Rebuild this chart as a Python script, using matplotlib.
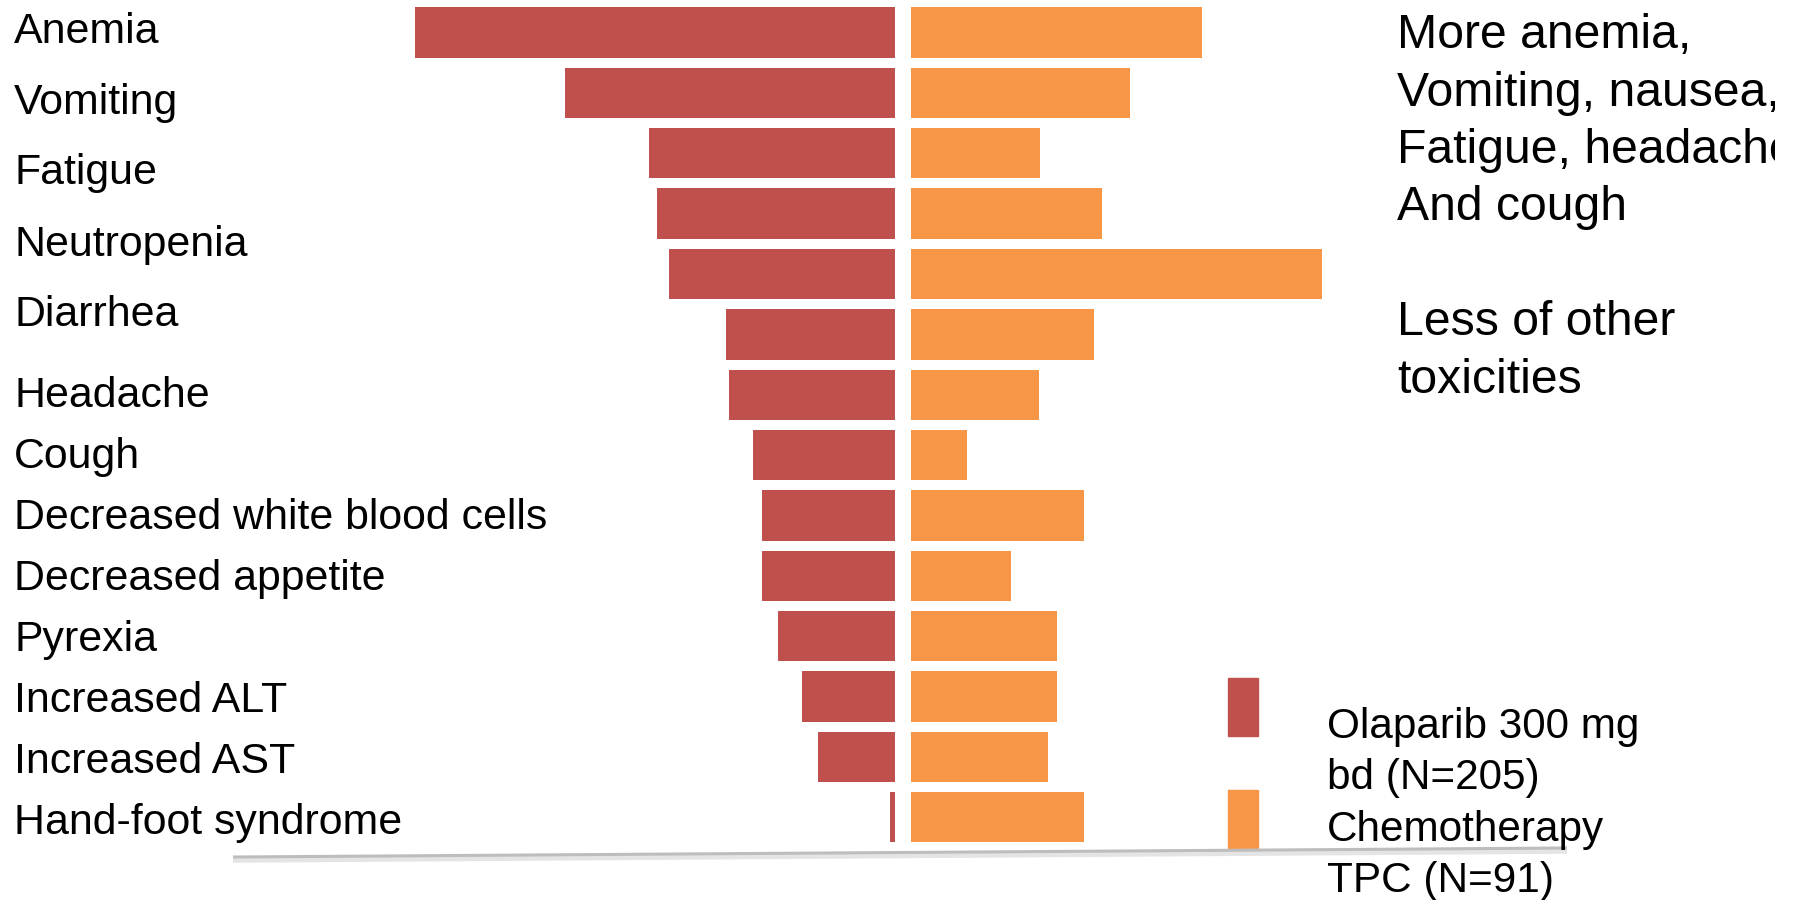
import matplotlib
matplotlib.use("Agg")
import matplotlib.pyplot as plt
import numpy as np
from matplotlib.patches import Rectangle
from matplotlib.lines import Line2D
from matplotlib.transforms import Bbox, TransformedBbox

plt.rcParams['font.family'] = ['Liberation Sans', 'DejaVu Sans']

# adverse event rates (%), one entry per bar, top to bottom
olaparib_pct = [40.0, 27.5, 20.5, 19.8, 18.8, 14.1, 13.8, 11.8, 11.1, 11.1, 9.7, 7.7, 6.4, 0.4]
chemo_pct = [24.2, 18.2, 10.7, 15.9, 34.2, 15.2, 10.6, 4.6, 14.4, 8.3, 12.1, 12.1, 11.4, 14.4]

# row labels as they sit in the text column on the left
labels = ["Anemia", "Vomiting", "Fatigue", "Neutropenia", "Diarrhea", "Headache", "Cough",
          "Decreased white blood cells", "Decreased appetite", "Pyrexia",
          "Increased ALT", "Increased AST", "Hand-foot syndrome"]
label_rows = [0.17, 1.35, 2.51, 3.70, 4.87, 6.20, 7.22, 8.22, 9.23, 10.24, 11.26, 12.27, 13.28]

legend_names = [["Olaparib 300 mg", "bd (N=205)"], ["Chemotherapy", "TPC (N=91)"]]
note_lines = ["More anemia,", "Vomiting, nausea,", "Fatigue, headache", "And cough", "",
              "Less of other", "toxicities"]

RED = "#C0504D"
ORANGE = "#F79646"

W, H = 1798, 900


def fx(px):
    return px / W


def fy(px):
    return 1 - px / H


fig = plt.figure(figsize=(W / 100, H / 100), dpi=100)
ax = fig.add_axes([0, 0, 1, 1])
ax.axis("off")

rows = np.arange(len(olaparib_pct))
gap = 0.69
ax.barh(rows, -np.array(olaparib_pct), left=-gap, height=0.834, color=RED)
ax.barh(rows, chemo_pct, left=gap, height=0.834, color=ORANGE)
ax.set_xlim(-75.25, 74.58)
ax.set_ylim(14.37, -0.538)

# category names, left aligned at the figure edge
for name, r in zip(labels, label_rows):
    ax.text(fx(14), r, name, transform=ax.get_yaxis_transform(),
            ha="left", va="baseline", fontsize=30.9, color="black")

# baseline rule under the bars
fig.add_artist(Line2D([fx(233), fx(1567)], [fy(860), fy(851)], color="#e4e4e4", lw=4,
                      solid_capstyle="butt"))
fig.add_artist(Line2D([fx(233), fx(1567)], [fy(857), fy(848)], color="#bdbdbd", lw=2.2,
                      solid_capstyle="butt"))

# legend
for (top, color) in [(678, RED), (790, ORANGE)]:
    fig.add_artist(Rectangle((fx(1228), fy(top + 58)), fx(30), 58 / H, color=color,
                             transform=fig.transFigure))
leg_base = 738.3
for i, line in enumerate([l for pair in legend_names for l in pair]):
    fig.text(fx(1327), fy(leg_base + i * 51.1), line, ha="left", va="baseline",
             fontsize=30.4, color="black")

# summary note on the right, cut off by its text box
note_clip = TransformedBbox(Bbox([[0, 0], [1775 / W, 1]]), fig.transFigure)
for i, line in enumerate(note_lines):
    if line:
        t = fig.text(fx(1397), fy(48.3 + i * 57.4), line, ha="left", va="baseline",
                     fontsize=34.7, color="black")
        t.set_clip_box(note_clip)
        t.set_clip_on(True)

fig.savefig("out.png", dpi=100)
